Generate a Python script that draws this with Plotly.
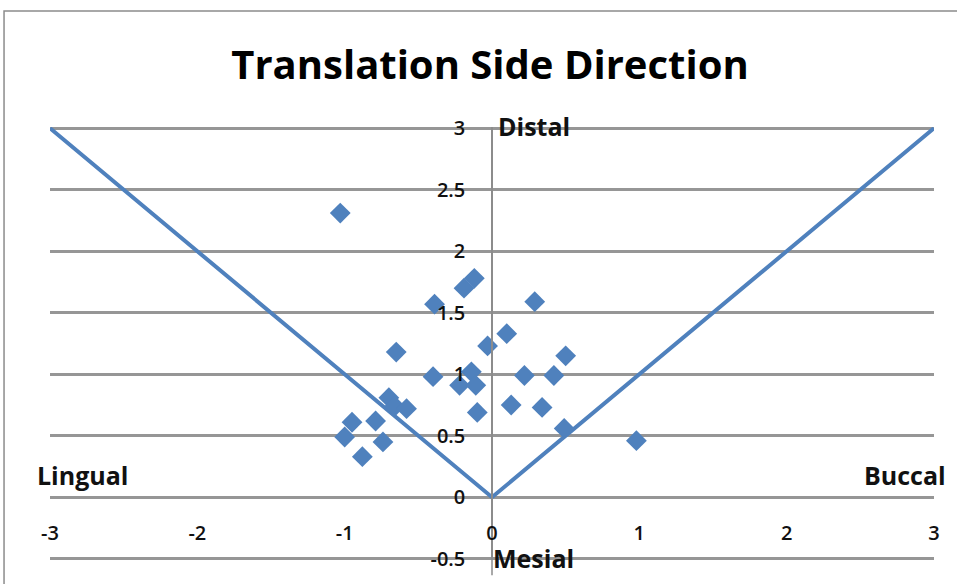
import plotly.graph_objects as go

# Measured translations (side direction vs. distal/mesial)
side_shift = [-1.03, -0.19, -0.12, -0.39, 0.29, 0.10, -0.03, -0.65, 0.50,
              -0.40, -0.14, -0.22, -0.11, 0.22, 0.42, 0.13, 0.34, -0.10,
              0.49, 0.98, -0.70, -0.66, -0.58, -0.79, -0.95, -1.00, -0.74, -0.88]
distal_shift = [2.31, 1.70, 1.78, 1.57, 1.59, 1.33, 1.23, 1.18, 1.15,
                0.98, 1.02, 0.91, 0.91, 0.99, 0.99, 0.75, 0.73, 0.69,
                0.56, 0.46, 0.81, 0.74, 0.72, 0.62, 0.61, 0.49, 0.45, 0.33]

# V-shaped boundary
boundary_x = [-3, 0, 3]
boundary_y = [3, 0, 3]

x_ticks = [-3, -2, -1, 0, 1, 2, 3]
y_ticks = [-0.5, 0, 0.5, 1, 1.5, 2, 2.5, 3]
y_ticktext = ["-0.5", "0", "0.5", "1", "1.5", "2", "2.5", "3"]

blue = "#4F81BD"
font_family = "'Open Sans', Lato, sans-serif"

# slight padding so the outermost gridlines at -0.5 and 3 stay visible
y_lo, y_hi = -0.51, 3.01
x_axis_pos = (0 - y_lo) / (y_hi - y_lo)

fig = go.Figure()
fig.add_trace(go.Scatter(
    x=boundary_x, y=boundary_y, mode="lines",
    line=dict(color=blue, width=4), hoverinfo="skip", showlegend=False,
))
fig.add_trace(go.Scatter(
    x=side_shift, y=distal_shift, mode="markers",
    marker=dict(symbol="diamond", size=16, color=blue, line=dict(width=0)),
    showlegend=False,
))

label_font = dict(family=font_family, size=25, color="#111", weight="bold")
# direction labels
fig.add_annotation(x=0.285, y=(3.02 - y_lo) / (y_hi - y_lo), yref="paper",
                   text="Distal", showarrow=False, xanchor="center",
                   yanchor="middle", font=label_font)
fig.add_annotation(x=0.285, y=-0.49, text="Mesial", showarrow=False,
                   xanchor="center", yanchor="middle", font=label_font)
fig.add_annotation(x=-2.78, y=0.18, text="Lingual", showarrow=False,
                   xanchor="center", yanchor="middle", font=label_font)
fig.add_annotation(x=2.80, y=0.18, text="Buccal", showarrow=False,
                   xanchor="center", yanchor="middle", font=label_font)

# chart frame
fig.add_shape(type="rect", xref="paper", yref="paper",
              x0=-0.052, x1=1.2, y0=-0.3, y1=1.268,
              line=dict(color="#8c8c8c", width=1.5), fillcolor="rgba(0,0,0,0)",
              layer="below")
# vertical axis runs a little past the lowest gridline
fig.add_shape(type="line", xref="paper", yref="paper",
              x0=0.5, x1=0.5, y0=-0.035, y1=0.01,
              line=dict(color="#8c8c8c", width=1.5))

fig.update_layout(
    width=957, height=584,
    margin=dict(l=50, r=23, t=127, b=22),
    paper_bgcolor="white", plot_bgcolor="white",
    title=dict(text="<b>Translation Side Direction</b>", x=0.512, xanchor="center",
               y=0.888, yanchor="middle",
               font=dict(family=font_family, size=40, color="#000")),
    xaxis=dict(range=[-3, 3], tickvals=x_ticks, ticktext=[str(v) for v in x_ticks],
               showgrid=False, zeroline=False, showline=False,
               anchor="free", position=x_axis_pos, ticks="",
               ticklabelstandoff=22,
               tickfont=dict(family=font_family, size=20, color="#111", weight=600)),
    yaxis=dict(range=[y_lo, y_hi], tickvals=y_ticks, ticktext=y_ticktext,
               showgrid=True, gridcolor="#969696", gridwidth=3,
               zeroline=False, showline=True, linecolor="#8c8c8c", linewidth=1.5,
               anchor="free", position=0.5, ticks="",
               ticklabelstandoff=22,
               tickfont=dict(family=font_family, size=20, color="#111", weight=600)),
)

fig.write_html("out.html")
